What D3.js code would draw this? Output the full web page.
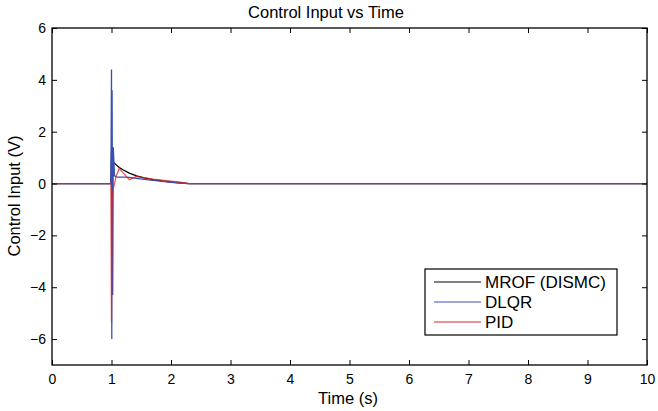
<!DOCTYPE html>
<html>
<head>
<meta charset="utf-8">
<script src="https://cdn.jsdelivr.net/npm/d3@7"></script>
<style>
  body { margin: 0; background: #fff; }
  text { font-family: "Liberation Sans", Arial, sans-serif; fill: #000; }
</style>
</head>
<body>
<div id="chart"></div>
<script>
// sample times (s) and control inputs (V) for each controller
let time = [0, 0.99, 1.0, 1.005, 1.01, 1.02, 1.03, 1.05, 1.08, 1.13, 1.2, 1.3, 1.42, 1.55, 1.7, 1.85, 2.0, 2.15, 2.3, 10];
let mrof = [0, 0, 1.25, -1.5, 0.5, 0.85, 0.82, 0.78, 0.72, 0.62, 0.52, 0.4, 0.3, 0.22, 0.15, 0.1, 0.06, 0.03, 0, 0];
let dlqr = [0, 0, 4.4, -6.0, 3.6, -4.3, 1.4, 0.3, 0.26, 0.25, 0.25, 0.24, 0.2, 0.16, 0.12, 0.08, 0.05, 0.02, 0, 0];
let pid = [0, 0, -5.35, -3.0, -0.7, -0.4, -0.2, 0.0, 0.3, 0.58, 0.4, 0.15, 0.27, 0.22, 0.17, 0.13, 0.09, 0.05, 0, 0];

let seriesNames = ["MROF (DISMC)", "DLQR", "PID"];
let xTicks = [0, 1, 2, 3, 4, 5, 6, 7, 8, 9, 10];
let yTicks = [-6, -4, -2, 0, 2, 4, 6];

let svgWidth = 658;
let svgHeight = 411;
let margin = { top: 28, right: 11, bottom: 46, left: 52 };
let chartWidth = svgWidth - margin.left - margin.right;
let chartHeight = svgHeight - margin.top - margin.bottom;

let colors = ["#000000", "#3a4fb5", "#e02424"];
let opac = [1, 1, 0.75];

let svg = d3.select("#chart").append("svg")
  .attr("width", svgWidth)
  .attr("height", svgHeight);

let chartGroup = svg.append("g")
  .attr("transform", `translate(${margin.left}, ${margin.top})`);

let x = d3.scaleLinear().domain([0, 10]).range([0, chartWidth]);
let y = d3.scaleLinear().domain([-7, 6]).range([chartHeight, 0]);

// lines
let series = [mrof, dlqr, pid];
let line = d3.line()
  .x((d, i) => x(time[i]))
  .y(d => y(d));

series.forEach(function(vals, k) {
  chartGroup.append("path")
    .datum(vals)
    .attr("fill", "none")
    .attr("stroke", colors[k])
    .attr("stroke-opacity", opac[k])
    .attr("stroke-width", 1.3)
    .attr("d", line);
});

// axes, ticks inward, box
function styleAxis(g) {
  g.select(".domain").remove();
  g.selectAll("line").attr("stroke", "#000");
  g.selectAll("text").attr("font-size", "14px").attr("font-family", "Liberation Sans, Arial, sans-serif");
}

chartGroup.append("g")
  .attr("transform", `translate(0, ${chartHeight})`)
  .call(d3.axisBottom(x).tickValues(xTicks).tickSize(-5).tickPadding(9).tickFormat(d3.format("d")))
  .call(styleAxis);

chartGroup.append("g")
  .call(d3.axisTop(x).tickValues(xTicks).tickSize(-5).tickFormat(""))
  .call(styleAxis);

chartGroup.append("g")
  .call(d3.axisLeft(y).tickValues(yTicks).tickSize(-5).tickPadding(6).tickFormat(d3.format("d")))
  .call(styleAxis);

chartGroup.append("g")
  .attr("transform", `translate(${chartWidth}, 0)`)
  .call(d3.axisRight(y).tickValues(yTicks).tickSize(-5).tickFormat(""))
  .call(styleAxis);

chartGroup.append("rect")
  .attr("width", chartWidth)
  .attr("height", chartHeight)
  .attr("fill", "none")
  .attr("stroke", "#000")
  .attr("stroke-width", 1.3);

// legend
let legend = chartGroup.append("g")
  .attr("transform", `translate(${425 - margin.left}, ${269 - margin.top})`);

legend.append("rect")
  .attr("width", 192)
  .attr("height", 66)
  .attr("fill", "#fff")
  .attr("stroke", "#000")
  .attr("stroke-width", 1.2);

seriesNames.forEach(function(name, k) {
  let ly = 13 + k * 20;
  legend.append("line")
    .attr("x1", 9).attr("x2", 56)
    .attr("y1", ly).attr("y2", ly)
    .attr("stroke", colors[k])
    .attr("stroke-width", 1.1);
  legend.append("text")
    .attr("x", 60)
    .attr("y", ly)
    .attr("dy", "0.36em")
    .attr("font-size", "17px")
    .text(name);
});

// title and axis labels
svg.append("text")
  .attr("x", 326)
  .attr("y", 18)
  .attr("text-anchor", "middle")
  .attr("font-size", "16.5px")
  .text("Control Input vs Time");

svg.append("text")
  .attr("x", 348)
  .attr("y", 404)
  .attr("text-anchor", "middle")
  .attr("font-size", "16.5px")
  .text("Time (s)");

svg.append("text")
  .attr("transform", "translate(20, 196) rotate(-90)")
  .attr("text-anchor", "middle")
  .attr("font-size", "16.5px")
  .text("Control Input (V)");
</script>
</body>
</html>
